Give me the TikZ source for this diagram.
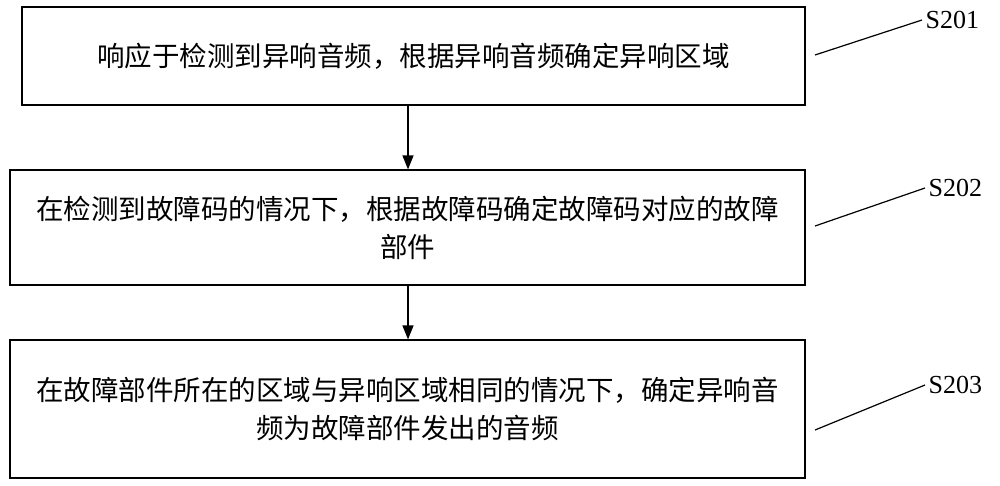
\documentclass[tikz,border=0pt]{standalone}
\usepackage{fontspec}
\newfontfamily\cjk{Noto Sans CJK SC}
\newfontfamily\lab{Liberation Serif}
\usetikzlibrary{arrows.meta}
\begin{document}
\begin{tikzpicture}[x=1pt,y=-1pt,
  stepbox/.style={draw,line width=1.2pt,inner sep=0pt},
  txt/.style={font=\cjk\fontsize{27.5}{38}\selectfont,align=center,text width=790pt},
  lbl/.style={font=\lab\fontsize{26}{30}\selectfont,anchor=west},
  arr/.style={line width=1.2pt,-{Triangle[length=14pt,width=11pt]}},
  lead/.style={line width=1.2pt}]
\useasboundingbox (0,0) rectangle (1000,485);
\node[stepbox,minimum width=783pt,minimum height=98pt] (b1) at (413.5,56) {};
\node[stepbox,minimum width=795pt,minimum height=115pt] (b2) at (407.5,227.5) {};
\node[stepbox,minimum width=795pt,minimum height=138pt] (b3) at (407.5,409) {};
\node[txt] (t1) at (b1.center) {响应于检测到异响音频，根据异响音频确定异响区域};
\node[txt] (t2) at (b2.center) {在检测到故障码的情况下，根据故障码确定故障码对应的故障\\部件};
\node[txt] (t3) at (b3.center) {在故障部件所在的区域与异响区域相同的情况下，确定异响音\\频为故障部件发出的音频};
\draw[arr] (b1.south -| 408,0) -- (b2.north -| 408,0);
\draw[arr] (b2.south -| 408,0) -- (b3.north -| 408,0);
\node[lbl] (l1) at (922,20) {S201};
\node[lbl] (l2) at (925,188) {S202};
\node[lbl] (l3) at (925,385) {S203};
\coordinate (c1) at (815,55);
\coordinate (c2) at (815,226);
\coordinate (c3) at (815,430);
\draw[lead] (c1) -- (l1.west);
\draw[lead] (c2) -- (l2.west);
\draw[lead] (c3) -- (l3.west);
\end{tikzpicture}
\end{document}
